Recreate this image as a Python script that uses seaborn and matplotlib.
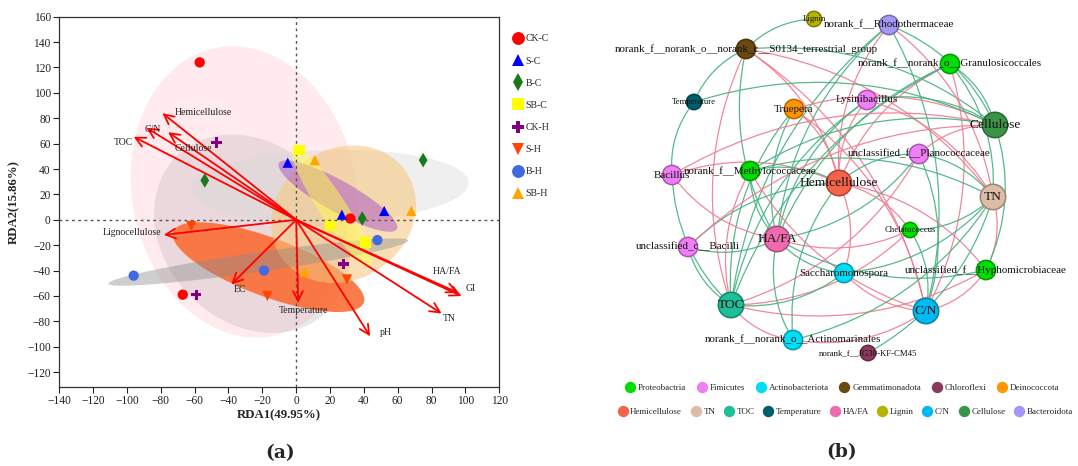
import numpy as np
import pandas as pd
import matplotlib
matplotlib.use("Agg")
import matplotlib.pyplot as plt
import seaborn as sns
from matplotlib.patches import Ellipse, PathPatch
from matplotlib.path import Path
from matplotlib.lines import Line2D
from matplotlib.colors import to_rgb

# ---------------- (a) RDA ordination ----------------
groups = ["CK-C", "S-C", "B-C", "SB-C", "CK-H", "S-H", "B-H", "SB-H"]
rda1 = [
    [-57, 32, -67],
    [-5, 27, 52],
    [-54, 39, 75],
    [2, 20, 41],
    [-47, 28, -59],
    [-62, -17, 30],
    [-96, -19, 48],
    [11, 5, 68],
]
rda2 = [
    [124, 1, -59],
    [45, 4, 7],
    [31, 1, 47],
    [55, -5, -18],
    [61, -35, -59],
    [-5, -60, -47],
    [-44, -40, -16],
    [47, -41, 7],
]

env_names = ["Hemicellulose", "C/N", "Cellulose", "TOC", "Lignocellulose", "EC",
             "Temperature", "pH", "TN", "GI", "HA/FA"]
env_rda1 = [-79, -88.5, -75.7, -96, -78.2, -38.3, 1.2, 43.7, 85.9, 97.7, 95.6]
env_rda2 = [84, 72.5, 69, 65.4, -11.9, -50.9, -65.4, -91.8, -73.8, -60.1, -57.5]

# ---------------- (b) co-occurrence network ----------------
node_ids = ["lig", "rho", "s01", "gra", "tem", "tru", "lys", "cel", "pla", "bac", "met",
            "hem", "tn", "che", "hafa", "ubac", "sac", "hyp", "toc", "cn", "act", "jg"]
node_labels = ["Lignin", "norank_f__Rhodothermaceae",
               "norank_f__norank_o__norank_c__S0134_terrestrial_group",
               "norank_f__norank_o__Granulosicoccales", "Temperature", "Truepera",
               "Lysinibacillus", "Cellulose", "unclassified_f__Planococcaceae", "Bacillus",
               "norank_f__Methylococcaceae", "Hemicellulose", "TN", "Chelatococcus", "HA/FA",
               "unclassified_c__Bacilli", "Saccharomonospora",
               "unclassified_f__Hyphomicrobiaceae", "TOC", "C/N",
               "norank_f__norank_o__Actinomarinales", "norank_f__JG30-KF-CM45"]
node_group = ["Lignin", "Bacteroidota", "Gemmatimonadota", "Proteobactria", "Temperature",
              "Deinococcota", "Fimicutes", "Cellulose", "Fimicutes", "Fimicutes",
              "Proteobactria", "Hemicellulose", "TN", "Proteobactria", "HA/FA", "Fimicutes",
              "Actinobacteriota", "Proteobactria", "TOC", "C/N", "Actinobacteriota",
              "Chloroflexi"]

# (source, target, +1 positive / -1 negative correlation)
edges = [
    ("s01", "lig", 1), ("s01", "tem", 1), ("s01", "cel", 1), ("s01", "tn", -1),
    ("s01", "hem", -1), ("s01", "hafa", 1), ("s01", "toc", -1), ("s01", "cn", -1),
    ("rho", "cel", 1), ("rho", "tn", -1), ("rho", "cn", 1), ("rho", "hafa", 1),
    ("rho", "toc", 1), ("rho", "hem", -1),
    ("gra", "cel", 1), ("gra", "tn", 1), ("gra", "hem", -1), ("gra", "hafa", 1),
    ("gra", "toc", 1), ("gra", "cn", -1),
    ("tru", "hafa", 1), ("tru", "toc", 1), ("tru", "hem", -1), ("tru", "cel", -1),
    ("tru", "cn", -1),
    ("lys", "cel", 1), ("lys", "tn", -1), ("lys", "hem", -1), ("lys", "hafa", 1),
    ("lys", "toc", 1),
    ("pla", "cel", -1), ("pla", "tn", 1), ("pla", "hem", 1), ("pla", "hafa", 1),
    ("pla", "toc", -1), ("pla", "cn", 1),
    ("bac", "tem", 1), ("bac", "cel", -1), ("bac", "hem", -1), ("bac", "toc", 1),
    ("bac", "hafa", -1),
    ("met", "hem", 1), ("met", "hafa", 1), ("met", "cel", 1), ("met", "tn", 1),
    ("met", "toc", -1), ("met", "cn", -1),
    ("che", "hafa", -1), ("che", "tn", 1), ("che", "hem", -1), ("che", "toc", -1),
    ("che", "cn", 1),
    ("ubac", "hafa", 1), ("ubac", "hem", 1), ("ubac", "toc", 1), ("ubac", "cel", -1),
    ("sac", "hafa", 1), ("sac", "tn", 1), ("sac", "hem", -1), ("sac", "toc", 1),
    ("sac", "cn", -1),
    ("hyp", "tn", -1), ("hyp", "cel", 1), ("hyp", "cn", -1), ("hyp", "hafa", 1),
    ("hyp", "toc", -1), ("hyp", "hem", -1),
    ("act", "toc", -1), ("act", "hafa", 1), ("act", "cn", -1), ("act", "hem", 1),
    ("act", "tn", 1),
    ("jg", "tn", 1), ("tem", "cel", 1),
]

legend_row1 = ["Proteobactria", "Fimicutes", "Actinobacteriota", "Gemmatimonadota",
               "Chloroflexi", "Deinococcota"]
legend_row2 = ["Hemicellulose", "TN", "TOC", "Temperature", "HA/FA", "Lignin", "C/N",
               "Cellulose", "Bacteroidota"]

# ---------------- styling ----------------
sns.set_style("ticks")
plt.rcParams["font.family"] = ["Liberation Serif", "DejaVu Serif"]

group_colors = {"CK-C": "#FF0000", "S-C": "#0000FF", "B-C": "#1A7A1A", "SB-C": "#FFFF00",
                "CK-H": "#800080", "S-H": "#FF4500", "B-H": "#4169E1", "SB-H": "#FFA500"}
group_markers = {"CK-C": "o", "S-C": "^", "B-C": "d", "SB-C": "s",
                 "CK-H": "P", "S-H": "v", "B-H": "o", "SB-H": "^"}
# fill colour, alpha and stacking order of each group's ellipse
ellipse_style = {
    "CK-C": ("#FF4060", 0.11, 1.0),
    "CK-H": ("#BCB0B5", 0.30, 1.1),
    "B-C": ("#D8D8D8", 0.40, 1.2),
    "S-H": ("#FA6A30", 0.88, 1.3),
    "SB-H": ("#F7C67A", 0.55, 1.4),
    "B-H": ("#8C8C8C", 0.42, 1.5),
    "S-C": ("#A040C8", 0.45, 1.6),
    "SB-C": ("#FFFF50", 0.50, 1.7),
}
# label offsets (pixels) and alignment relative to each arrow tip
env_label_style = {
    "Hemicellulose": (12, 1, "left"), "C/N": (6, -2, "center"),
    "Cellulose": (25, -16, "center"), "TOC": (-10, -6, "center"),
    "Lignocellulose": (-2, 2, "right"), "EC": (9, -5, "center"),
    "Temperature": (5, -8, "center"), "pH": (16, 4, "center"),
    "TN": (8, -5, "center"), "GI": (9, 8, "center"), "HA/FA": (-11, 21, "center"),
}

node_palette = {
    "Proteobactria": "#00DD00", "Fimicutes": "#F07EF6", "Actinobacteriota": "#00DDF5",
    "Gemmatimonadota": "#6B4A12", "Chloroflexi": "#8B3A5E", "Deinococcota": "#FF9500",
    "Hemicellulose": "#F4634A", "TN": "#DDBDA6", "TOC": "#1DBF98", "Temperature": "#005E6B",
    "HA/FA": "#F06AB0", "Lignin": "#B4B400", "C/N": "#00B9F2", "Cellulose": "#3A9448",
    "Bacteroidota": "#A597F5",
}
# node layout in figure pixels
layout = {
    "lig": (814, 19), "rho": (889, 25), "s01": (746, 49), "gra": (950, 64),
    "tem": (694, 102), "tru": (794, 109), "lys": (867, 100), "cel": (995, 125),
    "pla": (919, 154), "bac": (672, 175), "met": (750, 171), "hem": (839, 183),
    "tn": (993, 197), "che": (910, 230), "hafa": (777, 239), "ubac": (688, 247),
    "sac": (844, 273), "hyp": (986, 270), "toc": (731, 305), "cn": (926, 311),
    "act": (793, 340), "jg": (868, 353),
}
env_nodes = {"cel", "tn", "hem", "hafa", "toc", "cn"}
small_nodes = {"lig", "tem", "che", "jg"}

W, H = 1078, 466
fig = plt.figure(figsize=(W / 100, H / 100), dpi=100)

# ======== panel (a) ========
ax = fig.add_axes([59.2 / W, (H - 386.7) / H, 440.1 / W, 370 / H])

ords = dict(zip(groups, zip(rda1, rda2)))
for g in groups:
    fc, al, z = ellipse_style[g]
    xs = np.asarray(ords[g][0], float)
    ys = np.asarray(ords[g][1], float)
    cov = np.cov(xs, ys)
    vals, vecs = np.linalg.eigh(cov)
    order = vals.argsort()[::-1]
    vals, vecs = vals[order], vecs[:, order]
    ang = np.degrees(np.arctan2(vecs[1, 0], vecs[0, 0]))
    k = 1.23
    ax.add_patch(Ellipse((xs.mean(), ys.mean()), 2 * k * np.sqrt(vals[0]),
                         2 * k * np.sqrt(vals[1]), angle=ang, facecolor=fc,
                         alpha=al, edgecolor="none", zorder=z))

ax.axhline(0, color="#555555", lw=1.0, ls=(0, (2, 2.5)), zorder=2)
ax.axvline(0, color="#555555", lw=1.0, ls=(0, (2, 2.5)), zorder=2)

for name, ex, ey in zip(env_names, env_rda1, env_rda2):
    ax.annotate("", xy=(ex, ey), xytext=(0, 0),
                arrowprops=dict(arrowstyle="->,head_length=0.7,head_width=0.35",
                                color="#FF0000", lw=1.3, shrinkA=0, shrinkB=0),
                zorder=3)
    dx, dy, ha = env_label_style[name]
    ax.annotate(name, xy=(ex, ey), xytext=(dx, dy), textcoords="offset pixels",
                ha=ha, va="center", fontsize=7, color="#222222", zorder=6)

df = pd.DataFrame({
    "group": np.repeat(groups, 3),
    "RDA1": np.concatenate(rda1),
    "RDA2": np.concatenate(rda2),
})
sns.scatterplot(data=df, x="RDA1", y="RDA2", hue="group", style="group",
                palette=group_colors, markers=group_markers, hue_order=groups,
                style_order=groups, s=55, linewidth=0, ax=ax, zorder=5)

ax.set_xlim(-140, 120)
ax.set_ylim(-131.5, 160)
ax.set_xticks(np.arange(-140, 121, 20))
ax.set_yticks(np.arange(-120, 161, 20))
ax.tick_params(direction="out", length=4, width=0.8, labelsize=8.3, pad=2,
               colors="#222222")
for sp in ax.spines.values():
    sp.set_visible(True)
    sp.set_linewidth(0.9)
    sp.set_color("#333333")
ax.set_xlabel("RDA1(49.95%)", fontsize=9.2, fontweight="bold", labelpad=1.5)
ax.set_ylabel("RDA2(15.86%)", fontsize=9.2, fontweight="bold", labelpad=5)

sns.move_legend(ax, "upper left", bbox_to_anchor=(1.0298, 0.952), frameon=False,
                title=None, fontsize=7, markerscale=1.25, labelspacing=1.35,
                handletextpad=0.15, handlelength=1.2, borderpad=0, borderaxespad=0)

# ======== panel (b) ========
axb = fig.add_axes([540 / W, (H - 375) / H, 538 / W, 375 / H])

GREEN, PINK = "#45B27E", "#F07A90"
cx0, cy0 = 840, 200
for a, b, sgn in edges:
    x1, y1 = layout[a]
    x2, y2 = layout[b]
    mx, my = (x1 + x2) / 2, (y1 + y2) / 2
    px, py = -(y2 - y1), (x2 - x1)
    if (mx + px * 0.01 - cx0) ** 2 + (my + py * 0.01 - cy0) ** 2 < (mx - cx0) ** 2 + (my - cy0) ** 2:
        px, py = -px, -py
    ctrl = (mx + 0.2 * px, my + 0.2 * py)
    path = Path([(x1, y1), ctrl, (x2, y2)], [Path.MOVETO, Path.CURVE3, Path.CURVE3])
    axb.add_patch(PathPatch(path, facecolor="none", edgecolor=GREEN if sgn > 0 else PINK,
                            lw=0.9, alpha=0.9, zorder=1))

tiers = ["env" if i in env_nodes else ("minor" if i in small_nodes else "taxon")
         for i in node_ids]
ndf = pd.DataFrame({
    "id": node_ids, "label": node_labels, "group": node_group, "tier": tiers,
    "x": [layout[i][0] for i in node_ids], "y": [layout[i][1] for i in node_ids],
})
sns.scatterplot(data=ndf, x="x", y="y", hue="group", palette=node_palette, size="tier",
                sizes={"env": 335, "taxon": 193, "minor": 122}, legend=False,
                linewidth=1.1, ax=axb, zorder=3)
coll = axb.collections[-1]
coll.set_edgecolors([tuple(0.7 * np.array(to_rgb(node_palette[g]))) for g in ndf["group"]])

label_size = {"env": 9.7, "taxon": 7.9, "minor": 6.3}
for _, r in ndf.iterrows():
    axb.text(r["x"], r["y"], r["label"], ha="center", va="center",
             fontsize=label_size[r["tier"]], color="#111111", zorder=4)

axb.set_xlim(540, 1078)
axb.set_ylim(375, 0)
axb.axis("off")

def legend_handles(names):
    return [Line2D([], [], ls="", marker="o", markersize=8.2,
                   markerfacecolor=node_palette[n], markeredgecolor="none") for n in names]

for names, cx, cy, gap in ((legend_row1, 842, 388.3, 1.15), (legend_row2, 845, 411.7, 0.9)):
    fig.legend(legend_handles(names), names, loc="center", ncol=len(names),
               bbox_to_anchor=(cx / W, 1 - cy / H), frameon=False, fontsize=6.5,
               handlelength=1.2, handletextpad=0.25, columnspacing=gap,
               borderpad=0, borderaxespad=0)

fig.text(280.3 / W, 1 - 453.3 / H, "(a)", ha="center", va="center", fontsize=13.5,
         fontweight="bold", family="DejaVu Serif")
fig.text(842 / W, 1 - 451.7 / H, "(b)", ha="center", va="center", fontsize=13.5,
         fontweight="bold", family="DejaVu Serif")

fig.savefig("out.png", dpi=100)
